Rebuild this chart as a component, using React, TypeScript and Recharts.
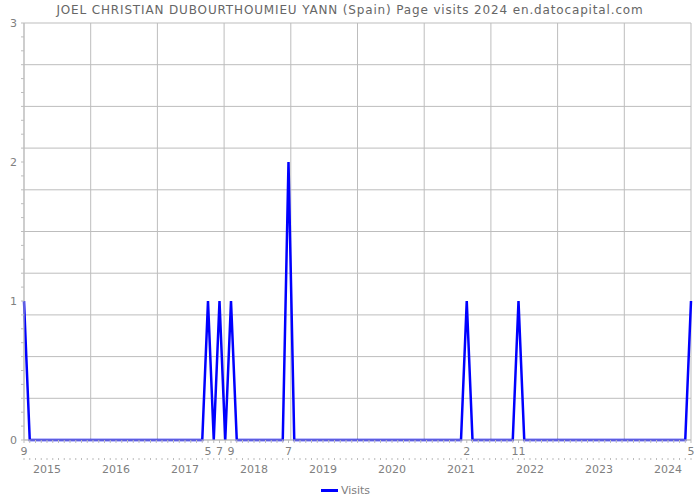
import React from 'react';
import { LineChart, Line, XAxis, YAxis, CartesianGrid, Legend } from 'recharts';

const TITLE = 'JOEL CHRISTIAN DUBOURTHOUMIEU YANN (Spain) Page visits 2024 en.datocapital.com';

// monthly series, first point is Sep 2014, last is May 2024
const START_YEAR = 2014;
const START_MONTH = 9;

const visits2014 = [1, 0, 0, 0];
const visits2015 = [0, 0, 0, 0, 0, 0, 0, 0, 0, 0, 0, 0];
const visits2016 = [0, 0, 0, 0, 0, 0, 0, 0, 0, 0, 0, 0];
const visits2017 = [0, 0, 0, 0, 1, 0, 1, 0, 1, 0, 0, 0];
const visits2018 = [0, 0, 0, 0, 0, 0, 2, 0, 0, 0, 0, 0];
const visits2019 = [0, 0, 0, 0, 0, 0, 0, 0, 0, 0, 0, 0];
const visits2020 = [0, 0, 0, 0, 0, 0, 0, 0, 0, 0, 0, 0];
const visits2021 = [0, 1, 0, 0, 0, 0, 0, 0, 0, 0, 1, 0];
const visits2022 = [0, 0, 0, 0, 0, 0, 0, 0, 0, 0, 0, 0];
const visits2023 = [0, 0, 0, 0, 0, 0, 0, 0, 0, 0, 0, 0];
const visits2024 = [0, 0, 0, 0, 1];

const yLabels = [0, 1, 2, 3];

const allVisits = [
  ...visits2014, ...visits2015, ...visits2016, ...visits2017, ...visits2018,
  ...visits2019, ...visits2020, ...visits2021, ...visits2022, ...visits2023, ...visits2024,
];

const data = allVisits.map((v, i) => {
  const m = START_MONTH - 1 + i;
  return { idx: i, year: START_YEAR + Math.floor(m / 12), month: (m % 12) + 1, visits: v };
});

const xTicks = data.map(d => d.idx);
const yTicks = Array.from({ length: 31 }, (_, i) => i / 10);

const GRID = '#bdbdbd';
const TEXT = '#808080';
const BLUE = '#0000ff';

// grid is split in 10 even parts, not tied to the ticks
const vGrid = ({ offset }: any) =>
  Array.from({ length: 11 }, (_, i) => offset.left + (offset.width * i) / 10);
const hGrid = ({ offset }: any) =>
  Array.from({ length: 11 }, (_, i) => offset.top + (offset.height * i) / 10);

const XTick = (props: any) => {
  const { x, y, payload } = props;
  const d = data[payload.value];
  if (!d) return null;
  return (
    <g>
      {d.visits > 0 && (
        <text x={x} y={y + 10} textAnchor="middle" fontSize={11} fill={TEXT}>
          {d.month}
        </text>
      )}
      <line x1={x} x2={x} y1={y + 13} y2={y + 15} stroke={GRID} />
      {d.month === 1 && (
        <text x={x} y={y + 28} textAnchor="middle" fontSize={11} fill={TEXT}>
          {d.year}
        </text>
      )}
    </g>
  );
};

const YTick = (props: any) => {
  const { x, y, payload } = props;
  if (!yLabels.includes(payload.value)) return null;
  return (
    <text x={x} y={y + 4} textAnchor="end" fontSize={11} fill={TEXT}>
      {payload.value}
    </text>
  );
};

const LegendContent = () => (
  <div style={{ display: 'flex', justifyContent: 'center', alignItems: 'center', height: 20 }}>
    <span style={{ display: 'inline-block', width: 17, height: 3, background: BLUE, marginRight: 3 }} />
    <span style={{ fontSize: 11, color: TEXT }}>Visits</span>
  </div>
);

const App: React.FC = () => {
  return (
    <div style={{ position: 'absolute', left: 0, top: 0, width: 700, height: 500, fontFamily: '"DejaVu Sans", sans-serif', background: '#fff' }}>
      <div style={{ position: 'absolute', top: 3, width: 700, textAlign: 'center', fontSize: 12, color: '#666', letterSpacing: 0.85 }}>
        {TITLE}
      </div>
      <LineChart width={700} height={500} data={data} margin={{ top: 23, right: 9, left: 0, bottom: 0 }}>
        <CartesianGrid
          stroke={GRID}
          verticalCoordinatesGenerator={vGrid}
          horizontalCoordinatesGenerator={hGrid}
        />
        <XAxis
          dataKey="idx"
          type="number"
          domain={[0, allVisits.length - 1]}
          ticks={xTicks}
          interval={0}
          height={40}
          tickSize={3}
          tickMargin={2}
          axisLine={{ stroke: GRID }}
          tickLine={{ stroke: GRID }}
          tick={<XTick />}
        />
        <YAxis
          type="number"
          domain={[0, 3]}
          ticks={yTicks}
          interval={0}
          width={24}
          tickSize={3}
          tickMargin={4}
          axisLine={{ stroke: GRID }}
          tickLine={{ stroke: GRID }}
          tick={<YTick />}
        />
        <Legend verticalAlign="bottom" height={20} content={<LegendContent />} />
        <Line
          type="linear"
          dataKey="visits"
          name="Visits"
          stroke={BLUE}
          strokeWidth={2.5}
          dot={false}
          isAnimationActive={false}
        />
      </LineChart>
    </div>
  );
};

export default App;
